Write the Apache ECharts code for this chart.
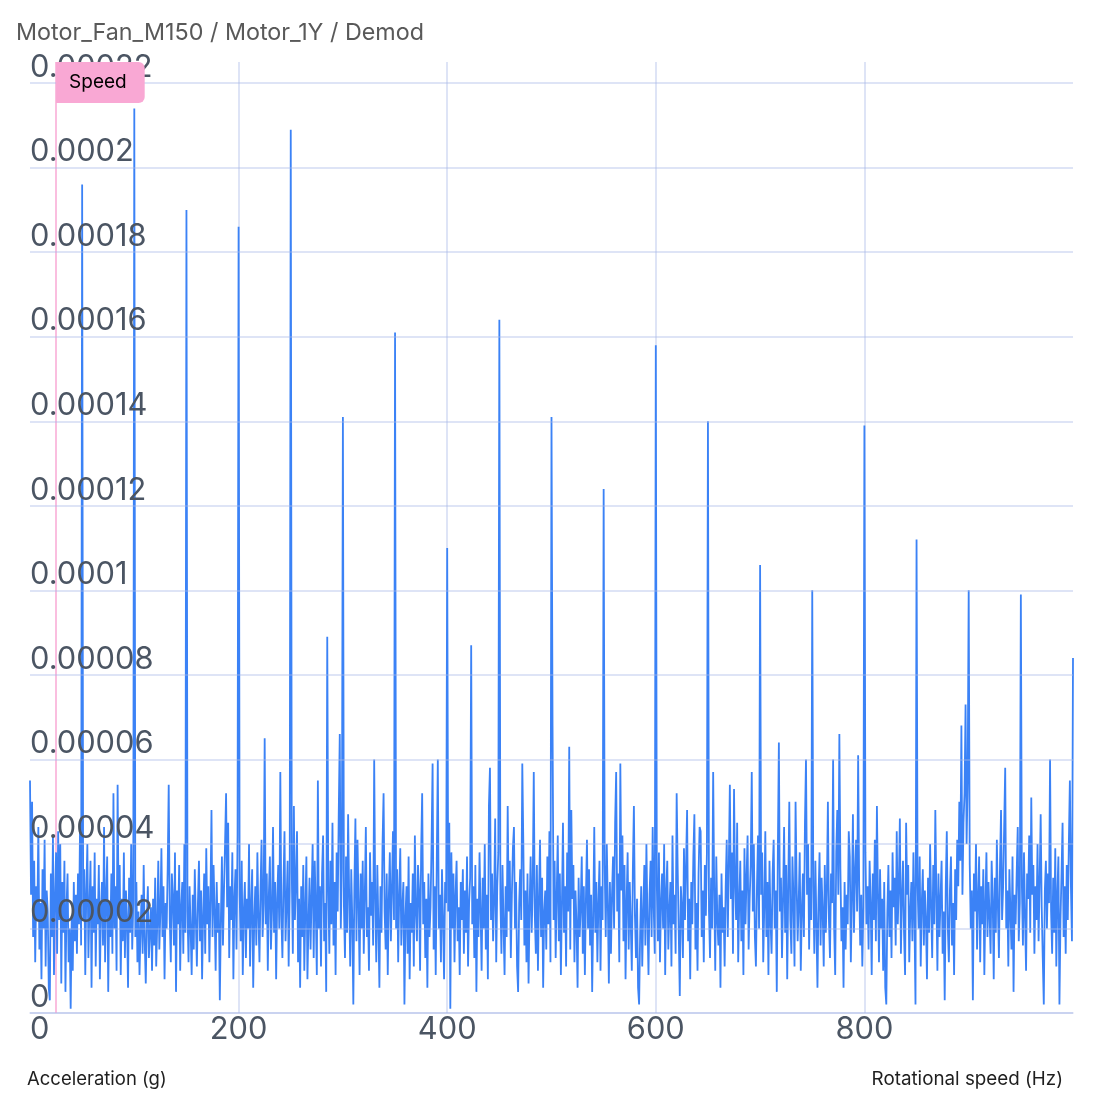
<!DOCTYPE html>
<html>
<head>
<meta charset="utf-8">
<title>Motor_Fan_M150 / Motor_1Y / Demod</title>
<script src="https://cdn.jsdelivr.net/npm/echarts@6/dist/echarts.min.js"></script>
<style>
  html, body { margin: 0; padding: 0; background: #ffffff; }
  #chart { width: 1110px; height: 1110px; }
</style>
</head>
<body>
<div id="chart"></div>
<script>
// ---- data ----
const chartTitle = 'Motor_Fan_M150 / Motor_1Y / Demod';
const yAxisTitle = 'Acceleration (g)';
const xAxisTitle = 'Rotational speed (Hz)';
const speedLabel = 'Speed';
const speedHz = 25;
const freqStartHz = 0;
const freqStepHz = 1;
const yAxisMax = 0.000225;
const yAxisStep = 0.00002;
const xAxisMax = 1000;
const xAxisStep = 200;

// amplitude per 1 Hz bin, 0 .. 1000 Hz (g)
const amplitude = [
// 0-49
55e-6,28e-6,50e-6,18e-6,36e-6,12e-6,30e-6,22e-6,44e-6,15e-6,26e-6,8e-6,34e-6,20e-6,41e-6,11e-6,29e-6,24e-6,6e-6,3e-6,
33e-6,18e-6,42e-6,9e-6,27e-6,38e-6,14e-6,43e-6,22e-6,40e-6,7e-6,31e-6,19e-6,36e-6,5e-6,25e-6,33e-6,12e-6,20e-6,1e-6,
23e-6,10e-6,31e-6,17e-6,28e-6,14e-6,33e-6,21e-6,45e-6,16e-6,
// 50-99
196e-6,22e-6,34e-6,9e-6,29e-6,40e-6,13e-6,25e-6,36e-6,6e-6,30e-6,19e-6,38e-6,11e-6,27e-6,21e-6,35e-6,8e-6,24e-6,31e-6,
16e-6,44e-6,12e-6,28e-6,37e-6,5e-6,26e-6,18e-6,33e-6,14e-6,52e-6,20e-6,30e-6,10e-6,54e-6,23e-6,35e-6,9e-6,27e-6,17e-6,
38e-6,13e-6,29e-6,22e-6,6e-6,32e-6,19e-6,40e-6,15e-6,26e-6,
// 100-149
214e-6,18e-6,31e-6,12e-6,24e-6,9e-6,20e-6,28e-6,14e-6,35e-6,17e-6,7e-6,22e-6,30e-6,13e-6,19e-6,25e-6,10e-6,27e-6,16e-6,
32e-6,11e-6,21e-6,36e-6,15e-6,24e-6,39e-6,18e-6,30e-6,8e-6,26e-6,20e-6,34e-6,54e-6,22e-6,12e-6,33e-6,27e-6,16e-6,38e-6,
5e-6,29e-6,21e-6,35e-6,10e-6,25e-6,31e-6,14e-6,40e-6,19e-6,
// 150-199
190e-6,24e-6,12e-6,30e-6,20e-6,9e-6,28e-6,15e-6,34e-6,22e-6,11e-6,26e-6,36e-6,17e-6,29e-6,8e-6,23e-6,33e-6,14e-6,39e-6,
21e-6,30e-6,12e-6,27e-6,48e-6,18e-6,35e-6,24e-6,10e-6,31e-6,19e-6,26e-6,3e-6,22e-6,37e-6,16e-6,29e-6,40e-6,52e-6,25e-6,
45e-6,13e-6,30e-6,22e-6,38e-6,8e-6,27e-6,34e-6,15e-6,42e-6,
// 200-249
186e-6,28e-6,17e-6,36e-6,9e-6,24e-6,31e-6,13e-6,27e-6,20e-6,40e-6,11e-6,25e-6,34e-6,6e-6,22e-6,30e-6,16e-6,38e-6,23e-6,
12e-6,29e-6,41e-6,18e-6,26e-6,65e-6,21e-6,33e-6,10e-6,28e-6,37e-6,15e-6,24e-6,44e-6,19e-6,31e-6,8e-6,27e-6,35e-6,20e-6,
57e-6,23e-6,13e-6,30e-6,43e-6,17e-6,26e-6,36e-6,11e-6,29e-6,
// 250-299
209e-6,33e-6,14e-6,49e-6,22e-6,31e-6,43e-6,12e-6,27e-6,6e-6,30e-6,18e-6,35e-6,10e-6,25e-6,37e-6,8e-6,21e-6,32e-6,15e-6,
28e-6,40e-6,13e-6,36e-6,24e-6,9e-6,55e-6,20e-6,30e-6,11e-6,33e-6,42e-6,17e-6,26e-6,5e-6,89e-6,29e-6,14e-6,36e-6,21e-6,
45e-6,16e-6,31e-6,9e-6,38e-6,24e-6,47e-6,66e-6,20e-6,34e-6,
// 300-349
141e-6,25e-6,13e-6,37e-6,19e-6,47e-6,28e-6,11e-6,34e-6,22e-6,2e-6,30e-6,46e-6,17e-6,41e-6,26e-6,9e-6,33e-6,20e-6,36e-6,
14e-6,28e-6,44e-6,18e-6,25e-6,10e-6,38e-6,23e-6,31e-6,16e-6,60e-6,27e-6,12e-6,35e-6,21e-6,6e-6,30e-6,19e-6,40e-6,52e-6,
24e-6,15e-6,33e-6,9e-6,27e-6,38e-6,17e-6,29e-6,43e-6,22e-6,
// 350-399
161e-6,20e-6,34e-6,12e-6,28e-6,39e-6,16e-6,25e-6,31e-6,2e-6,23e-6,30e-6,14e-6,37e-6,8e-6,26e-6,19e-6,33e-6,11e-6,42e-6,
24e-6,17e-6,35e-6,29e-6,10e-6,38e-6,52e-6,21e-6,31e-6,13e-6,27e-6,6e-6,33e-6,18e-6,25e-6,40e-6,59e-6,15e-6,30e-6,9e-6,
36e-6,60e-6,20e-6,28e-6,12e-6,34e-6,22e-6,8e-6,31e-6,26e-6,
// 400-449
110e-6,24e-6,45e-6,1e-6,38e-6,20e-6,33e-6,12e-6,28e-6,36e-6,17e-6,25e-6,9e-6,31e-6,22e-6,34e-6,14e-6,29e-6,19e-6,37e-6,
11e-6,26e-6,32e-6,87e-6,21e-6,30e-6,13e-6,35e-6,5e-6,27e-6,18e-6,38e-6,24e-6,10e-6,32e-6,20e-6,40e-6,15e-6,28e-6,8e-6,
49e-6,58e-6,22e-6,33e-6,17e-6,27e-6,46e-6,12e-6,30e-6,38e-6,
// 450-499
164e-6,27e-6,14e-6,35e-6,21e-6,9e-6,30e-6,18e-6,49e-6,24e-6,36e-6,13e-6,28e-6,39e-6,44e-6,20e-6,31e-6,11e-6,5e-6,26e-6,
34e-6,22e-6,59e-6,40e-6,16e-6,29e-6,12e-6,33e-6,7e-6,25e-6,37e-6,19e-6,30e-6,57e-6,23e-6,14e-6,35e-6,10e-6,27e-6,41e-6,
18e-6,32e-6,6e-6,24e-6,29e-6,15e-6,37e-6,21e-6,43e-6,12e-6,
// 500-549
141e-6,68e-6,22e-6,36e-6,13e-6,28e-6,42e-6,17e-6,33e-6,9e-6,26e-6,45e-6,19e-6,30e-6,11e-6,38e-6,24e-6,63e-6,15e-6,48e-6,
27e-6,35e-6,12e-6,29e-6,21e-6,6e-6,32e-6,18e-6,25e-6,37e-6,14e-6,30e-6,9e-6,27e-6,41e-6,20e-6,34e-6,16e-6,28e-6,5e-6,
23e-6,44e-6,19e-6,31e-6,12e-6,26e-6,36e-6,10e-6,30e-6,22e-6,
// 550-599
124e-6,35e-6,18e-6,40e-6,26e-6,7e-6,31e-6,14e-6,28e-6,37e-6,20e-6,45e-6,57e-6,24e-6,33e-6,12e-6,59e-6,29e-6,42e-6,17e-6,
35e-6,8e-6,26e-6,38e-6,15e-6,31e-6,21e-6,10e-6,34e-6,49e-6,23e-6,13e-6,27e-6,6e-6,2e-6,19e-6,30e-6,11e-6,24e-6,35e-6,
16e-6,40e-6,22e-6,9e-6,28e-6,36e-6,18e-6,44e-6,25e-6,14e-6,
// 600-649
158e-6,30e-6,17e-6,38e-6,12e-6,26e-6,33e-6,20e-6,40e-6,9e-6,29e-6,36e-6,15e-6,24e-6,31e-6,11e-6,42e-6,21e-6,28e-6,14e-6,
52e-6,34e-6,19e-6,4e-6,30e-6,25e-6,13e-6,39e-6,22e-6,35e-6,48e-6,17e-6,27e-6,8e-6,31e-6,21e-6,37e-6,47e-6,15e-6,26e-6,
10e-6,33e-6,44e-6,43e-6,18e-6,29e-6,12e-6,35e-6,23e-6,38e-6,
// 650-699
140e-6,24e-6,13e-6,32e-6,20e-6,57e-6,29e-6,10e-6,37e-6,22e-6,16e-6,28e-6,6e-6,33e-6,19e-6,25e-6,11e-6,30e-6,41e-6,18e-6,
35e-6,54e-6,27e-6,38e-6,14e-6,53e-6,31e-6,22e-6,45e-6,12e-6,26e-6,36e-6,17e-6,29e-6,9e-6,39e-6,21e-6,32e-6,42e-6,15e-6,
27e-6,35e-6,57e-6,24e-6,40e-6,18e-6,11e-6,30e-6,42e-6,20e-6,
// 700-749
106e-6,28e-6,38e-6,12e-6,25e-6,43e-6,18e-6,31e-6,9e-6,36e-6,22e-6,14e-6,33e-6,41e-6,20e-6,29e-6,5e-6,38e-6,64e-6,24e-6,
32e-6,13e-6,27e-6,44e-6,19e-6,35e-6,8e-6,30e-6,50e-6,22e-6,14e-6,37e-6,27e-6,11e-6,50e-6,31e-6,17e-6,26e-6,38e-6,10e-6,
24e-6,33e-6,18e-6,45e-6,60e-6,28e-6,40e-6,15e-6,32e-6,22e-6,
// 750-799
100e-6,30e-6,14e-6,36e-6,21e-6,6e-6,27e-6,38e-6,16e-6,32e-6,24e-6,11e-6,35e-6,19e-6,29e-6,50e-6,22e-6,13e-6,33e-6,26e-6,
60e-6,20e-6,9e-6,38e-6,48e-6,28e-6,66e-6,34e-6,17e-6,25e-6,6e-6,31e-6,15e-6,28e-6,21e-6,43e-6,37e-6,12e-6,27e-6,47e-6,
19e-6,33e-6,41e-6,24e-6,61e-6,30e-6,16e-6,28e-6,11e-6,25e-6,
// 800-849
139e-6,38e-6,21e-6,30e-6,15e-6,36e-6,26e-6,9e-6,33e-6,22e-6,41e-6,17e-6,49e-6,28e-6,12e-6,34e-6,20e-6,27e-6,10e-6,31e-6,
6e-6,2e-6,24e-6,35e-6,18e-6,29e-6,13e-6,38e-6,25e-6,32e-6,16e-6,43e-6,21e-6,30e-6,46e-6,14e-6,27e-6,36e-6,19e-6,9e-6,
45e-6,28e-6,35e-6,12e-6,24e-6,31e-6,17e-6,38e-6,22e-6,2e-6,
// 850-899
112e-6,30e-6,20e-6,37e-6,11e-6,26e-6,34e-6,16e-6,29e-6,22e-6,8e-6,32e-6,19e-6,40e-6,25e-6,13e-6,35e-6,21e-6,48e-6,28e-6,
10e-6,33e-6,18e-6,27e-6,36e-6,14e-6,24e-6,3e-6,30e-6,43e-6,20e-6,12e-6,29e-6,37e-6,16e-6,26e-6,9e-6,34e-6,22e-6,41e-6,
30e-6,50e-6,36e-6,68e-6,28e-6,45e-6,52e-6,73e-6,40e-6,55e-6,
// 900-949
100e-6,35e-6,20e-6,29e-6,3e-6,33e-6,24e-6,40e-6,15e-6,27e-6,37e-6,12e-6,30e-6,21e-6,34e-6,9e-6,26e-6,38e-6,18e-6,31e-6,
23e-6,14e-6,36e-6,27e-6,8e-6,32e-6,19e-6,41e-6,25e-6,13e-6,35e-6,48e-6,22e-6,30e-6,44e-6,58e-6,20e-6,29e-6,11e-6,34e-6,
24e-6,15e-6,37e-6,5e-6,28e-6,21e-6,33e-6,44e-6,17e-6,26e-6,
// 950-1000
99e-6,30e-6,16e-6,38e-6,23e-6,10e-6,33e-6,27e-6,42e-6,19e-6,51e-6,28e-6,35e-6,14e-6,30e-6,22e-6,40e-6,17e-6,31e-6,47e-6,
25e-6,13e-6,2e-6,29e-6,36e-6,20e-6,33e-6,26e-6,60e-6,24e-6,14e-6,32e-6,19e-6,39e-6,11e-6,28e-6,37e-6,2e-6,22e-6,33e-6,
45e-6,18e-6,30e-6,14e-6,35e-6,22e-6,40e-6,55e-6,30e-6,17e-6,
84e-6
];

// ---- build table for the library ----
const seriesData = amplitude.map((v, i) => [freqStartHz + i * freqStepHz, v]);

const FONT = 'Inter, "Liberation Sans", Arial, sans-serif';
const GRID_COLOR = 'rgba(170, 184, 232, 0.5)';
const LABEL_COLOR = '#4b5563';
const SPEED_COLOR = '#f9a8d4';

const chart = echarts.init(document.getElementById('chart'), null, { renderer: 'canvas' });
chart.setOption({
  animation: false,
  backgroundColor: '#ffffff',
  textStyle: { fontFamily: FONT },
  title: [
    {
      text: chartTitle, left: 16, top: 21, padding: 0,
      textStyle: { fontFamily: FONT, fontSize: 23.3, fontWeight: 'normal', color: '#595959' }
    },
    {
      text: yAxisTitle, left: 27, top: 1070, padding: 0,
      textStyle: { fontFamily: FONT, fontSize: 18.5, fontWeight: 'normal', color: '#1f1f1f' }
    },
    {
      text: xAxisTitle, right: 47, top: 1070, padding: 0,
      textStyle: { fontFamily: FONT, fontSize: 18.8, fontWeight: 'normal', color: '#1f1f1f' }
    }
  ],
  grid: { left: 30, right: 37, top: 62, bottom: 97, containLabel: false },
  xAxis: {
    type: 'value', min: 0, max: xAxisMax, interval: xAxisStep,
    z: 0,
    axisLine: { show: true, lineStyle: { color: GRID_COLOR, width: 1.5 } },
    axisTick: { show: false },
    axisLabel: {
      fontFamily: FONT, fontSize: 30.8, color: LABEL_COLOR, margin: 1,
      alignMinLabel: 'left', showMaxLabel: false
    },
    splitLine: { show: true, showMinLine: false, showMaxLine: false, lineStyle: { color: GRID_COLOR, width: 1.5 } }
  },
  yAxis: {
    type: 'value', min: 0, max: yAxisMax, interval: yAxisStep,
    z: 4,
    axisLine: { show: false },
    axisTick: { show: false },
    axisLabel: {
      inside: true, margin: 0, verticalAlign: 'bottom', showMaxLabel: false,
      fontFamily: FONT, fontSize: 30.8, color: LABEL_COLOR
    },
    splitLine: { show: true, showMaxLine: false, lineStyle: { color: GRID_COLOR, width: 1.5 } }
  },
  series: [
    {
      type: 'line',
      z: 2,
      data: seriesData,
      showSymbol: false,
      symbol: 'none',
      lineStyle: { width: 1.8, color: '#3b82f6' },
      itemStyle: { color: '#3b82f6' },
      markLine: {
        z: 1,
        silent: true,
        symbol: 'none',
        lineStyle: { color: SPEED_COLOR, type: 'solid', width: 1.5 },
        label: { show: false },
        data: [{ xAxis: speedHz }]
      }
    },
    {
      type: 'line',
      name: 'speedLabel',
      z: 10,
      data: [[speedHz, 0]],
      showSymbol: false,
      symbol: 'none',
      lineStyle: { width: 0, color: 'rgba(0,0,0,0)' },
      itemStyle: { color: 'rgba(0,0,0,0)' },
      silent: true,
      markLine: {
        z: 10,
        silent: true,
        symbol: 'none',
        lineStyle: { color: 'rgba(249,168,212,0)', type: 'solid', width: 1 },
        label: {
          show: true, formatter: speedLabel, position: 'end', distance: 0,
          align: 'left', verticalAlign: 'top',
          backgroundColor: SPEED_COLOR, color: '#000000',
          fontFamily: FONT, fontSize: 19,
          padding: [11, 18, 11, 13], borderRadius: [0, 6, 6, 0]
        },
        data: [{ xAxis: speedHz }]
      }
    }
  ]
});
</script>
</body>
</html>
